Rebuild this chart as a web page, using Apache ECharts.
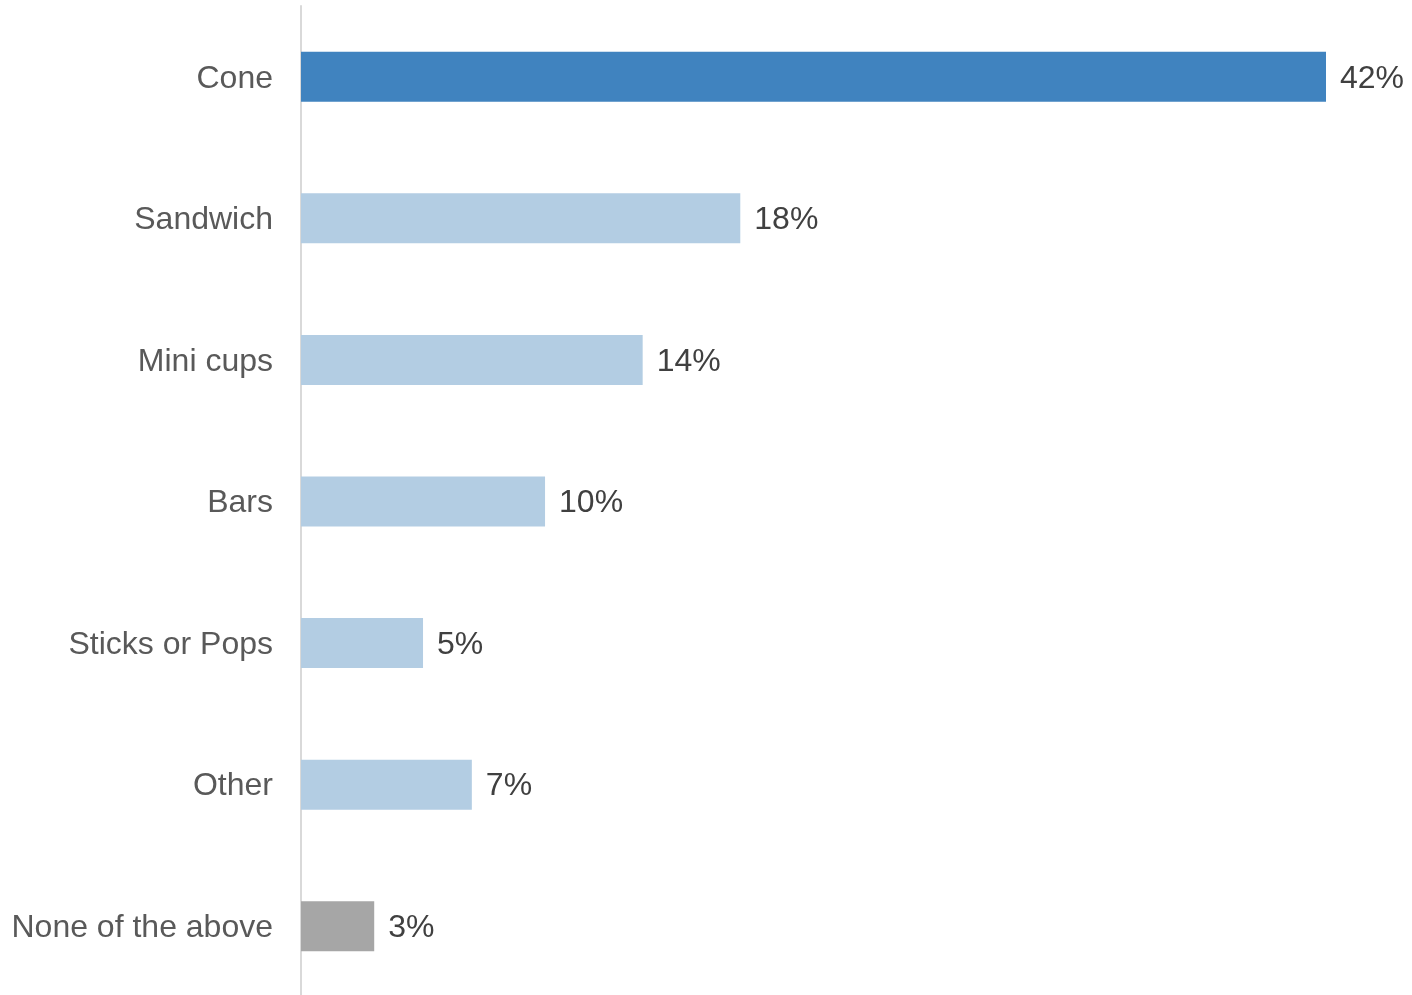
<!DOCTYPE html>
<html>
<head>
<meta charset="utf-8">
<title>Ice cream format preference</title>
<script src="https://cdn.jsdelivr.net/npm/echarts@6/dist/echarts.min.js"></script>
<style>
  html, body { margin: 0; padding: 0; background: #ffffff; overflow: hidden; }
  #chart { width: 1412px; height: 1000px; }
</style>
</head>
<body>
<div id="chart"></div>
<script>
// Share of respondents by preferred format (%)
const categories = ['Cone', 'Sandwich', 'Mini cups', 'Bars', 'Sticks or Pops', 'Other', 'None of the above'];
const shares = [42, 18, 14, 10, 5, 7, 3];

// Highlight the top answer, grey out the "none" answer
const barColors = ['#4083BF', '#B3CDE3', '#B3CDE3', '#B3CDE3', '#B3CDE3', '#B3CDE3', '#A6A6A6'];

const chart = echarts.init(document.getElementById('chart'), null, { renderer: 'canvas' });

chart.setOption({
  animation: false,
  backgroundColor: '#ffffff',
  grid: { left: 301, right: 86, top: 6, bottom: 3, containLabel: false },
  xAxis: {
    type: 'value',
    min: 0,
    max: 42,
    show: false
  },
  yAxis: {
    type: 'category',
    data: categories,
    inverse: true,
    axisTick: { show: false },
    axisLine: { show: true, lineStyle: { color: '#D9D9D9', width: 2 } },
    axisLabel: {
      margin: 28,
      formatter: v => '{c|' + v + '}',
      rich: {
        c: {
          padding: [4, 0, 0, 0],
          fontFamily: 'Liberation Sans, Arial, sans-serif',
          fontSize: 32,
          color: '#595959'
        }
      }
    },
    splitLine: { show: false }
  },
  series: [{
    type: 'bar',
    barWidth: 50,
    data: shares.map((v, i) => ({ value: v, itemStyle: { color: barColors[i] } })),
    label: {
      show: true,
      position: 'right',
      distance: 14,
      offset: [0, 2],
      formatter: p => p.value + '%',
      fontFamily: 'Liberation Sans, Arial, sans-serif',
      fontSize: 32,
      color: '#404040'
    }
  }]
});
</script>
</body>
</html>
